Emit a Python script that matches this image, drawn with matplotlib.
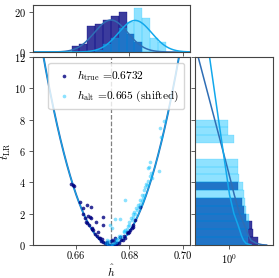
import numpy as np
import matplotlib
matplotlib.use('Agg')
import matplotlib.pyplot as plt
from matplotlib.ticker import NullLocator, NullFormatter

plt.rcParams['font.family'] = 'serif'
plt.rcParams['font.serif'] = ['cmr10']
plt.rcParams['mathtext.fontset'] = 'cm'
plt.rcParams['axes.unicode_minus'] = False
plt.rcParams['axes.formatter.use_mathtext'] = True
plt.rcParams['font.size'] = 7.5

# ---- data ----
h_true = 0.6732
par_width = 0.0073          # width of the t_LR parabola
fit_true = (0.6731, 0.0062, 16.0)   # mu, sigma, peak count
fit_alt = (0.6821, 0.0062, 15.8)

hist_edges = [0.6584, 0.6613, 0.6642, 0.6672, 0.6701, 0.6730, 0.6760,
              0.6789, 0.6818, 0.6847, 0.6877, 0.6906, 0.6935]
navy_counts = [3, 4, 13, 14, 16, 18, 20, 9, 5, 0, 0, 0]
light_counts = [0, 0, 0, 1, 4, 7, 12, 15, 22, 17, 7, 5]

# scatter: (h_hat, t_LR)
navy_h = [0.6581, 0.6592, 0.6615, 0.6625, 0.6642, 0.6655, 0.6646, 0.6655,
          0.6674, 0.6638, 0.6642, 0.6702, 0.6702, 0.6665, 0.6684, 0.6690,
          0.6696, 0.6715, 0.6731, 0.6744, 0.6765, 0.6778, 0.6790, 0.6803,
          0.6815, 0.6822, 0.6840, 0.6628, 0.6635, 0.6650, 0.6660, 0.6670,
          0.6678, 0.6685, 0.6693, 0.6700, 0.6708, 0.6716, 0.6722, 0.6728,
          0.6735, 0.6740, 0.6748, 0.6755, 0.6760, 0.6770, 0.6775, 0.6782,
          0.6795, 0.6800, 0.6808, 0.6812, 0.6734, 0.6746, 0.6659, 0.6588,
          0.6653]
navy_t = [3.87, 3.77, 2.77, 2.34, 2.55, 2.44, 1.85, 1.70,
          1.45, 1.49, 1.40, 1.81, 1.30, 0.96, 0.85, 0.43,
          0.38, 0.21, 0.25, 0.27, 0.49, 0.55, 0.85, 0.96,
          1.17, 1.60, 2.44, 1.97, 1.72, 1.25, 1.00, 0.70,
          0.55, 0.42, 0.28, 0.18, 0.10, 0.05, 0.02, 0.01,
          0.01, 0.03, 0.05, 0.10, 0.15, 0.30, 0.35, 0.45,
          0.75, 0.80, 1.10, 1.30, 0.32, 0.43, 1.06, 3.83,
          1.81]
light_h = [0.6928, 0.6915, 0.6919, 0.6878, 0.6868, 0.6909, 0.6884, 0.6874,
           0.6784, 0.6859, 0.6865, 0.6855, 0.6850, 0.6853, 0.6846, 0.6840,
           0.6835, 0.6828, 0.6822, 0.6815, 0.6809, 0.6800, 0.6795, 0.6784,
           0.6778, 0.6770, 0.6762, 0.6755, 0.6748, 0.6742, 0.6736, 0.6728,
           0.6733, 0.6746, 0.6765, 0.6730, 0.6720, 0.6712, 0.6870, 0.6875,
           0.6862, 0.6845, 0.6838, 0.6832, 0.6825, 0.6818, 0.6812, 0.6805,
           0.6798, 0.6790, 0.6780, 0.6760, 0.6750, 0.6724, 0.6717, 0.6880]
light_t = [7.93, 7.45, 6.91, 5.32, 4.89, 4.74, 4.26, 5.00,
           2.87, 3.68, 3.85, 3.50, 2.98, 3.19, 2.80, 2.60,
           2.40, 2.23, 2.00, 1.80, 1.60, 1.30, 1.20, 0.96,
           0.80, 0.60, 0.45, 0.30, 0.20, 0.10, 0.05, 1.28,
           1.10, 1.64, 1.64, 0.02, 0.08, 0.15, 4.10, 4.40,
           3.90, 3.20, 2.90, 2.55, 2.35, 2.10, 1.95, 1.70,
           1.45, 1.05, 0.90, 0.55, 0.40, 0.25, 0.30, 4.60]

# right marginal: t_LR bins of 0.5 from 0 to 8
t_bin_lo = [0.0, 0.5, 1.0, 1.5, 2.0, 2.5, 3.0, 3.5,
            4.0, 4.5, 5.0, 5.5, 6.0, 6.5, 7.0, 7.5]
navy_tvals = [3.85, 2.98, 2.84, 2.2, 2.0, 1.8, 0, 1.53,
              0, 0, 0, 0, 0, 0, 0, 0]
light_tvals = [2.4, 2.4, 2.5, 2.51, 2.19, 2.09, 1.99, 1.88,
               1.61, 1.49, 1.49, 0, 0, 1.28, 0.97, 0.97]

# right marginal curves, (t, value) pairs
dark_curve_t = [13.0, 12.0, 8.0, 5.0, 3.2, 2.0, 1.2, 0.6, 0.3, 0.1, 0.02, 0.0]
dark_curve_v = [0.2, 0.243, 0.52, 0.92, 1.28, 1.63, 2.09, 2.46, 2.76, 3.58, 4.6, 5.67]
bright_curve_t = [13.0, 12.0, 8.0, 5.0, 3.2, 2.0, 1.2, 0.6, 0.3, 0.1, 0.0]
bright_curve_v = [0.38, 0.41, 0.62, 0.85, 1.03, 1.26, 1.55, 1.78, 1.95, 2.2, 2.78]

navy = 'navy'
sky = 'deepskyblue'
dark_line = '#2f6eb5'
bright_line = '#12a8ec'
spine_col = '#444444'

fig = plt.figure(figsize=(2.79, 2.78), dpi=100)
ax = fig.add_axes([0.1183, 0.1187, 0.5627, 0.6763])
ax_top = fig.add_axes([0.1183, 0.8129, 0.5627, 0.169], sharex=ax)
ax_right = fig.add_axes([0.6989, 0.1187, 0.2796, 0.6763], sharey=ax)

# ---- main panel ----
hh = np.linspace(0.64, 0.71, 400)
ax.plot(hh, ((hh - h_true) / par_width) ** 2, color=dark_line, lw=1.4, zorder=1)
ax.plot(hh, ((hh - h_true) / par_width) ** 2, color=bright_line, lw=0.7, zorder=1)
ax.axvline(h_true, color='gray', ls='--', lw=0.9, zorder=0)
ax.scatter(navy_h, navy_t, s=7, color=navy, alpha=0.8, lw=0, zorder=3,
           label=r'$h_{\rm true}$ =0.6732')
ax.scatter(light_h, light_t, s=7, color=sky, alpha=0.45, lw=0, zorder=3,
           label=r'$h_{\rm alt}$ =0.665 (shifted)')
ax.set_xlim(0.644, 0.7026)
ax.set_ylim(0, 12)
ax.set_xticks([0.66, 0.68, 0.70])
ax.set_xticklabels(['0.66', '0.68', '0.70'])
ax.set_yticks([0, 2, 4, 6, 8, 10, 12])
ax.set_xlabel(r'$\hat{h}$', fontsize=8.2)
ax.set_ylabel(r'$t_{\rm LR}$', fontsize=8.5)
ax.xaxis.set_label_coords(0.5, -0.093)
ax.yaxis.set_label_coords(-0.125, 0.5)
ax.legend(loc='upper right', fontsize=8.2, framealpha=0.8, edgecolor='#cccccc',
          handletextpad=0.3, borderpad=0.45, handlelength=1.8)

# ---- top marginal ----
edges = np.array(hist_edges)
ax_top.bar(edges[:-1], navy_counts, width=np.diff(edges), align='edge',
           color=navy, alpha=0.77, edgecolor=navy, lw=0.3)
ax_top.bar(edges[:-1], light_counts, width=np.diff(edges), align='edge',
           color=sky, alpha=0.44, edgecolor=sky, lw=0.3)
for (mu, sig, peak), col in [(fit_true, dark_line), (fit_alt, bright_line)]:
    ax_top.plot(hh, peak * np.exp(-0.5 * ((hh - mu) / sig) ** 2), color=col, lw=1.1)
ax_top.set_ylim(0, 23.5)
ax_top.set_yticks([0, 20])
ax_top.tick_params(axis='x', labelbottom=False)

# ---- right marginal ----
centers = np.array(t_bin_lo) + 0.25
ax_right.barh(centers, navy_tvals, height=0.5, left=1e-3,
              color=navy, alpha=0.77, edgecolor=navy, lw=0.3)
ax_right.barh(centers, light_tvals, height=0.5, left=1e-3,
              color=sky, alpha=0.44, edgecolor=sky, lw=0.3)
ax_right.plot(dark_curve_v, dark_curve_t, color=dark_line, lw=1.1)
ax_right.plot(bright_curve_v, bright_curve_t, color=bright_line, lw=1.1)
ax_right.set_xscale('log')
ax_right.set_xlim(0.21, 7.6)
ax_right.set_xticks([1])
ax_right.xaxis.set_minor_locator(NullLocator())
ax_right.xaxis.set_minor_formatter(NullFormatter())
ax_right.tick_params(axis='y', labelleft=False)

for a in (ax, ax_top, ax_right):
    for s in a.spines.values():
        s.set_color(spine_col)
        s.set_linewidth(0.8)
    a.tick_params(length=3, width=0.6, color=spine_col, pad=2)

fig.savefig('out.png', dpi=100)
